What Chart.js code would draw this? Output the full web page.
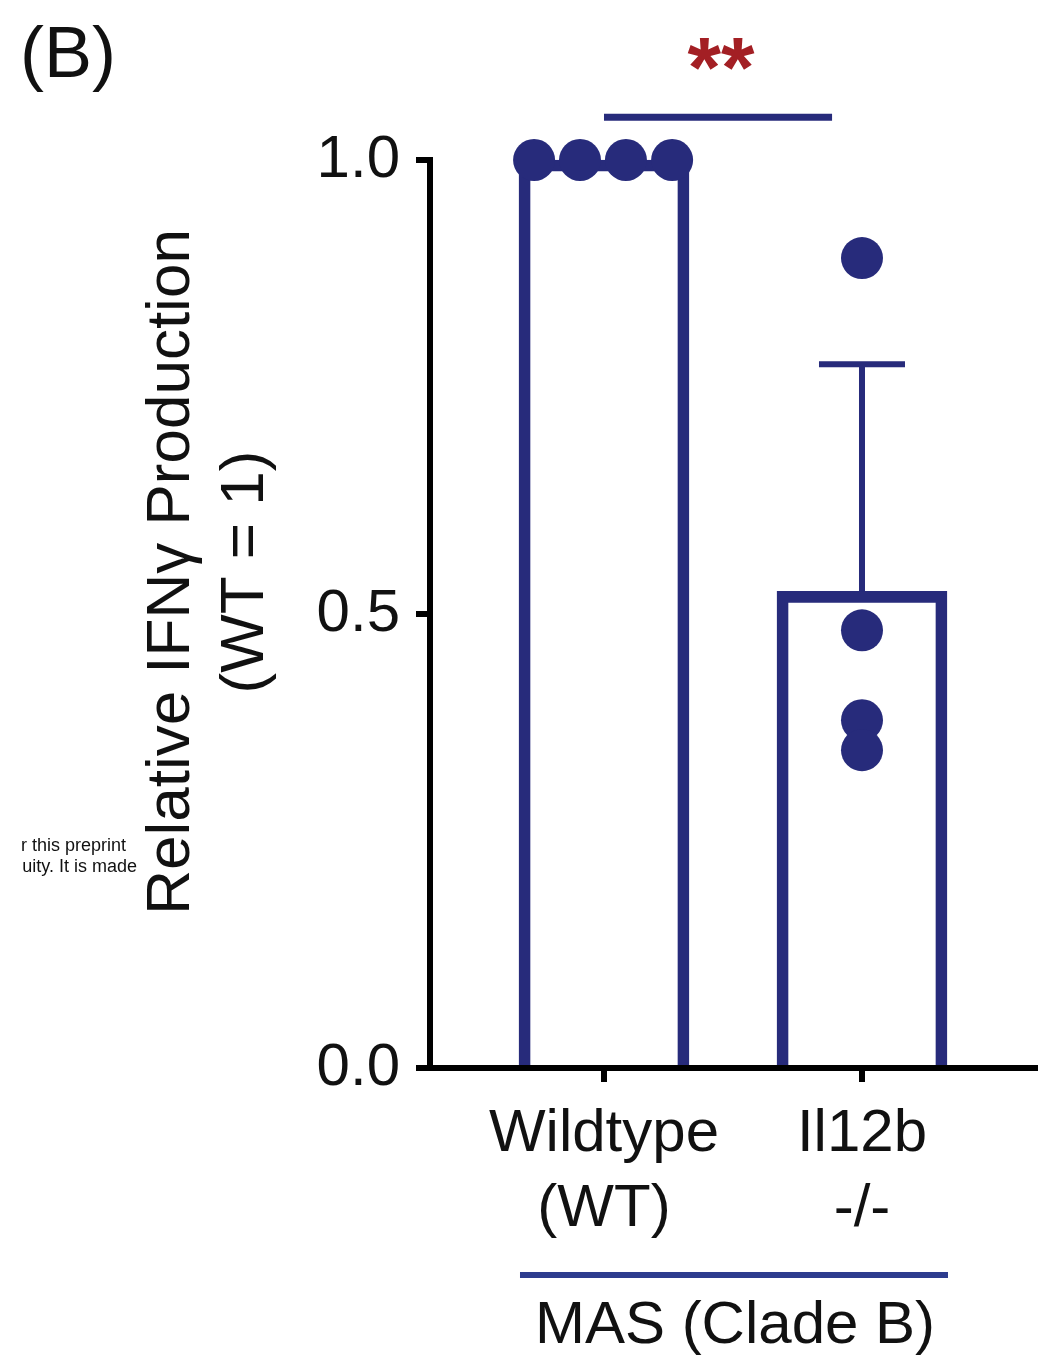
<!DOCTYPE html>
<html><head><meta charset="utf-8">
<script src="https://cdn.jsdelivr.net/npm/chart.js@4.4.0/dist/chart.umd.min.js"></script>
<style>html,body{margin:0;padding:0;background:#fff;} canvas{display:block;}</style>
</head><body>
<canvas id="c" width="1038" height="1359"></canvas>
<script>
// ---- data ----
const categories = [['Wildtype', '(WT)'], ['Il12b', '-/-']];
const categoryX = [1, 2];
const barMeans = [1.0, 0.525];
const errorSD = [0, 0.25];
const wtPointX = [0.729, 0.907, 1.085, 1.264];
const wtPointY = [1.0, 1.0, 1.0, 1.0];
const koPointX = [2, 2, 2, 2];
const koPointY = [0.892, 0.482, 0.383, 0.350];
const yTickValues = [0, 0.5, 1.0];
const yTickLabels = ['0.0', '0.5', '1.0'];
const yTitle = ['Relative IFNγ Production', '(WT = 1)'];
const groupLabel = 'MAS (Clade B)';
const panelLabel = '(B)';
const sigLabel = '**';
const sigFrom = 1, sigTo = 1.884, sigY = 1.047;
const watermark = ['r this preprint', 'uity. It is made'];

// ---- styling ----
const navy = '#272b7b';
const FONT = '"Liberation Sans", Arial, Helvetica, sans-serif';
const xMin = 0.3256, xMax = 2.6822;

const annot = {
  id: 'annot',
  afterDatasetsDraw(chart) {
    const { ctx, scales: { x, y } } = chart;
    ctx.save();
    ctx.strokeStyle = navy;
    ctx.lineWidth = 6;
    categoryX.forEach((cx, i) => {
      if (!errorSD[i]) return;
      const px = x.getPixelForValue(cx);
      const y0 = y.getPixelForValue(barMeans[i]);
      const y1 = y.getPixelForValue(barMeans[i] + errorSD[i]);
      ctx.beginPath();
      ctx.moveTo(px, y0); ctx.lineTo(px, y1);
      ctx.moveTo(px - 43, y1); ctx.lineTo(px + 43, y1);
      ctx.stroke();
    });
    ctx.restore();
  },
  afterDraw(chart) {
    const { ctx, scales: { x, y } } = chart;
    ctx.save();
    ctx.fillStyle = '#111';
    // panel label
    ctx.font = '72px ' + FONT;
    ctx.textAlign = 'left'; ctx.textBaseline = 'alphabetic';
    ctx.fillText(panelLabel, 20, 77);
    // y title
    ctx.font = '62px ' + FONT;
    ctx.textAlign = 'center'; ctx.textBaseline = 'middle';
    [[172, yTitle[0]], [246, yTitle[1]]].forEach(([tx, t]) => {
      ctx.save(); ctx.translate(tx, 572); ctx.rotate(-Math.PI / 2);
      ctx.fillText(t, 0, 0); ctx.restore();
    });
    // significance
    const sx0 = x.getPixelForValue(sigFrom), sx1 = x.getPixelForValue(sigTo);
    const sy = y.getPixelForValue(sigY);
    ctx.strokeStyle = navy; ctx.lineWidth = 7;
    ctx.beginPath(); ctx.moveTo(sx0, sy); ctx.lineTo(sx1, sy); ctx.stroke();
    ctx.fillStyle = '#a31f24';
    ctx.font = 'bold 86px ' + FONT;
    ctx.textAlign = 'center'; ctx.textBaseline = 'alphabetic';
    ctx.fillText(sigLabel, (sx0 + sx1) / 2 + 3, 97);
    // group line + label
    const gx0 = x.getPixelForValue(categoryX[0]) - 84, gx1 = x.getPixelForValue(categoryX[1]) + 86;
    ctx.strokeStyle = '#2d3c8e'; ctx.lineWidth = 6;
    ctx.beginPath(); ctx.moveTo(gx0, 1275); ctx.lineTo(gx1, 1275); ctx.stroke();
    ctx.fillStyle = '#111';
    ctx.font = '60px ' + FONT;
    ctx.textAlign = 'center';
    ctx.fillText(groupLabel, (gx0 + gx1) / 2 + 1, 1343);
    // watermark
    ctx.font = '18px ' + FONT;
    ctx.textAlign = 'right';
    ctx.fillText(watermark[0], 126, 851);
    ctx.fillText(watermark[1], 137, 872);
    ctx.restore();
  }
};

new Chart(document.getElementById('c'), {
  type: 'bar',
  data: {
    datasets: [
      {
        type: 'scatter',
        data: wtPointX.map((v, i) => ({ x: v, y: wtPointY[i] }))
          .concat(koPointX.map((v, i) => ({ x: v, y: koPointY[i] }))),
        pointRadius: 21, pointHoverRadius: 21,
        backgroundColor: navy, borderWidth: 0, order: 0, clip: false
      },
      {
        type: 'bar',
        data: categoryX.map((v, i) => ({ x: v, y: barMeans[i] })),
        barThickness: 170, borderWidth: 11, borderColor: navy,
        backgroundColor: 'rgba(255,255,255,0)', borderSkipped: 'start',
        order: 1, clip: false
      }
    ]
  },
  options: {
    responsive: false, animation: false, devicePixelRatio: 1, events: [],
    layout: { autoPadding: false, padding: { top: 160, left: 0, right: 0, bottom: 0 } },
    plugins: { legend: { display: false }, tooltip: { enabled: false } },
    scales: {
      x: {
        type: 'linear', min: xMin, max: xMax, z: 1, offset: false,
        afterFit(s) { s.height = 291; s.paddingLeft = 0; s.paddingRight = 0; },
        afterBuildTicks(s) { s.ticks = categoryX.map(v => ({ value: v })); },
        ticks: {
          callback: (v) => categories[categoryX.indexOf(v)],
          font: { family: FONT, size: 60, lineHeight: 1.25 }, color: '#111',
          padding: 15, maxRotation: 0, autoSkip: false
        },
        grid: { display: true, offset: false, drawOnChartArea: false, drawTicks: true, tickLength: 14, lineWidth: 6, color: '#000' },
        border: { display: true, width: 6, color: '#000' }
      },
      y: {
        type: 'linear', min: 0, max: 1,
        afterFit(s) { s.width = 430; },
        afterBuildTicks(s) { s.ticks = yTickValues.map(v => ({ value: v })); },
        ticks: {
          callback: (v) => yTickLabels[yTickValues.indexOf(v)],
          font: { family: FONT, size: 60 }, color: '#111', padding: 16
        },
        grid: { display: true, drawOnChartArea: false, drawTicks: true, tickLength: 14, lineWidth: 6, color: '#000' },
        border: { display: true, width: 6, color: '#000' }
      }
    }
  },
  plugins: [annot]
});
</script>
</body></html>
